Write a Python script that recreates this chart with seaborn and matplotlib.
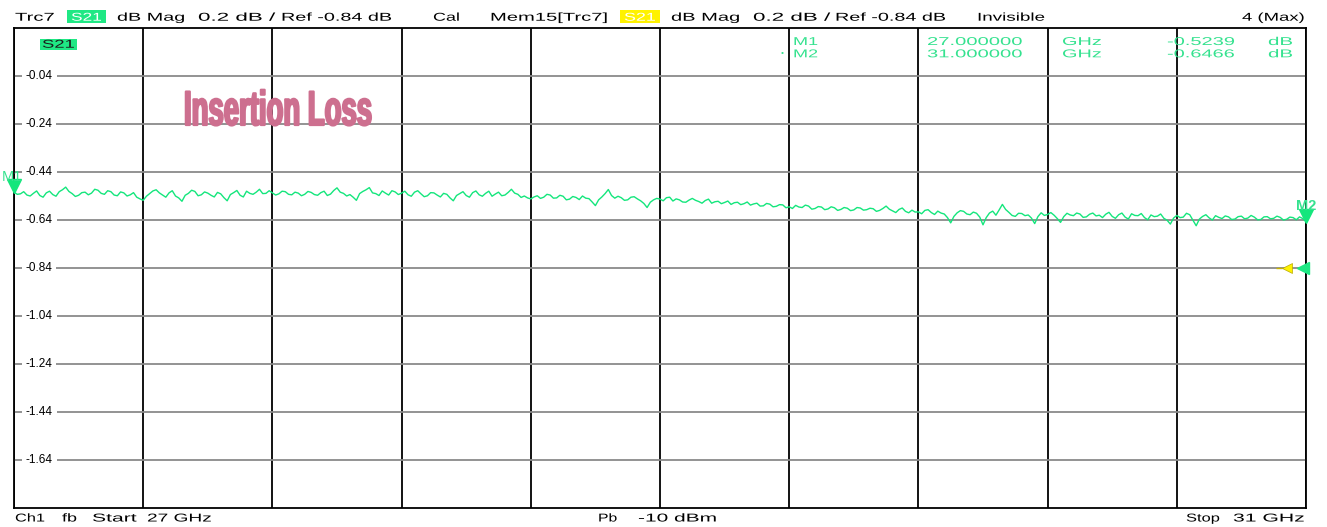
import numpy as np
import pandas as pd
import matplotlib
matplotlib.use("Agg")
import matplotlib.pyplot as plt
import seaborn as sns
from matplotlib.patheffects import AbstractPathEffect
from matplotlib.transforms import Affine2D, offset_copy, blended_transform_factory
from matplotlib.patches import Rectangle
from matplotlib import font_manager

# ---------------- data ----------------
start_ghz = 27.0
stop_ghz = 31.0
ref_level_db = -0.84
db_per_div = 0.2

s21_db = [
    # 27.0 - 27.4 GHz
    -0.524, -0.533, -0.531, -0.522, -0.536, -0.540, -0.529, -0.519, -0.538, -0.545,
    -0.527, -0.520, -0.534, -0.541, -0.522, -0.514, -0.503, -0.521, -0.530, -0.542,
    -0.537, -0.526, -0.524, -0.535, -0.528, -0.512, -0.516, -0.529, -0.533, -0.518,
    -0.522, -0.536, -0.539, -0.523, -0.527, -0.540, -0.535, -0.526, -0.545, -0.552,
    # 27.4 - 27.8 GHz
    -0.558, -0.541, -0.530, -0.519, -0.514, -0.527, -0.536, -0.545, -0.527, -0.518,
    -0.540, -0.548, -0.562, -0.537, -0.529, -0.516, -0.521, -0.539, -0.535, -0.523,
    -0.528, -0.537, -0.544, -0.525, -0.531, -0.547, -0.560, -0.534, -0.526, -0.517,
    -0.537, -0.544, -0.520, -0.529, -0.533, -0.524, -0.512, -0.530, -0.529, -0.518,
    # 27.8 - 28.2 GHz
    -0.527, -0.536, -0.531, -0.520, -0.522, -0.533, -0.535, -0.524, -0.528, -0.539,
    -0.533, -0.521, -0.525, -0.534, -0.537, -0.526, -0.520, -0.538, -0.532, -0.517,
    -0.506, -0.524, -0.529, -0.540, -0.534, -0.545, -0.558, -0.530, -0.521, -0.514,
    -0.505, -0.527, -0.530, -0.538, -0.519, -0.528, -0.536, -0.518, -0.523, -0.534,
    # 28.2 - 28.6 GHz
    -0.528, -0.520, -0.535, -0.541, -0.524, -0.518, -0.531, -0.543, -0.539, -0.526,
    -0.527, -0.536, -0.544, -0.529, -0.533, -0.548, -0.560, -0.538, -0.530, -0.522,
    -0.538, -0.545, -0.526, -0.519, -0.535, -0.541, -0.529, -0.520, -0.541, -0.532,
    -0.524, -0.539, -0.536, -0.525, -0.512, -0.528, -0.533, -0.546, -0.540, -0.548,
    # 28.6 - 29.0 GHz
    -0.552, -0.544, -0.539, -0.550, -0.545, -0.533, -0.536, -0.549, -0.548, -0.537,
    -0.541, -0.556, -0.553, -0.542, -0.546, -0.555, -0.540, -0.549, -0.551, -0.565,
    -0.580, -0.556, -0.544, -0.530, -0.513, -0.538, -0.549, -0.541, -0.547, -0.558,
    -0.556, -0.545, -0.543, -0.552, -0.560, -0.571, -0.588, -0.566, -0.556, -0.550,
    # 29.0 - 29.4 GHz
    -0.553, -0.560, -0.547, -0.545, -0.561, -0.552, -0.556, -0.565, -0.566, -0.557,
    -0.550, -0.558, -0.563, -0.570, -0.559, -0.553, -0.570, -0.564, -0.562, -0.572,
    -0.567, -0.561, -0.575, -0.568, -0.566, -0.576, -0.572, -0.565, -0.578, -0.573,
    -0.570, -0.582, -0.581, -0.571, -0.574, -0.585, -0.583, -0.576, -0.577, -0.589,
    # 29.4 - 29.8 GHz
    -0.585, -0.592, -0.579, -0.586, -0.588, -0.578, -0.582, -0.595, -0.592, -0.584,
    -0.586, -0.597, -0.594, -0.585, -0.589, -0.600, -0.596, -0.588, -0.591, -0.601,
    -0.598, -0.588, -0.590, -0.599, -0.597, -0.591, -0.593, -0.604, -0.600, -0.592,
    -0.582, -0.595, -0.602, -0.609, -0.596, -0.590, -0.604, -0.610, -0.599, -0.607,
    # 29.8 - 30.2 GHz
    -0.606, -0.614, -0.600, -0.597, -0.609, -0.617, -0.603, -0.611, -0.615, -0.630,
    -0.652, -0.625, -0.610, -0.601, -0.604, -0.615, -0.618, -0.607, -0.612, -0.628,
    -0.660, -0.630, -0.611, -0.603, -0.620, -0.598, -0.575, -0.596, -0.608, -0.621,
    -0.625, -0.612, -0.613, -0.622, -0.619, -0.632, -0.655, -0.626, -0.610, -0.621,
    # 30.2 - 30.6 GHz
    -0.617, -0.609, -0.620, -0.634, -0.650, -0.626, -0.612, -0.619, -0.622, -0.611,
    -0.615, -0.629, -0.627, -0.616, -0.611, -0.623, -0.620, -0.630, -0.616, -0.608,
    -0.625, -0.633, -0.618, -0.611, -0.628, -0.636, -0.614, -0.621, -0.622, -0.613,
    -0.630, -0.639, -0.619, -0.626, -0.624, -0.615, -0.633, -0.641, -0.657, -0.632,
    # 30.6 - 31.0 GHz
    -0.621, -0.630, -0.628, -0.612, -0.618, -0.641, -0.664, -0.636, -0.625, -0.618,
    -0.631, -0.640, -0.622, -0.629, -0.634, -0.623, -0.627, -0.638, -0.636, -0.626,
    -0.624, -0.635, -0.632, -0.621, -0.628, -0.639, -0.638, -0.627, -0.626, -0.635,
    -0.633, -0.624, -0.629, -0.640, -0.637, -0.628, -0.630, -0.639, -0.627, -0.634,
    -0.6466,
]
freq_ghz = np.linspace(start_ghz, stop_ghz, len(s21_db))

ytick_values = [-0.04, -0.24, -0.44, -0.64, -0.84, -1.04, -1.24, -1.44, -1.64]
marker_names = ["M1", "M2"]
marker_freqs = ["27.000000", "31.000000"]
marker_values = ["-0.5239", "-0.6466"]

# ---------------- style ----------------
sns.set_theme(style="white")
avail = {f.name for f in font_manager.fontManager.ttflist}
base_font = "Liberation Sans" if "Liberation Sans" in avail else "DejaVu Sans"
narrow_font = "Liberation Sans Narrow" if "Liberation Sans Narrow" in avail else base_font
plt.rcParams["font.family"] = [base_font, "DejaVu Sans"]

TRACE = "#14E67C"
TXT_GREEN = "#35E28F"
BOX_GREEN = "#1FE884"
YELLOW = "#FFF200"
PINK = "#CD6F8F"

W, H = 1327, 527
fig = plt.figure(figsize=(W / 100, H / 100), dpi=100)
fig.patch.set_facecolor("white")
ax = fig.add_axes([14 / W, 1 - 508 / H, 1292 / W, 480 / H])

df = pd.DataFrame({"freq": freq_ghz, "s21": s21_db})
sns.lineplot(data=df, x="freq", y="s21", ax=ax, color=TRACE, linewidth=1.0, zorder=5)

ax.set_xlim(start_ghz, stop_ghz)
ax.set_ylim(ref_level_db - 5 * db_per_div, ref_level_db + 5 * db_per_div)
ax.set_xticks(np.linspace(start_ghz, stop_ghz, 11))
ax.set_yticks(ytick_values)
ax.tick_params(length=0, labelleft=False, labelbottom=False)
ax.set_xlabel("")
ax.set_ylabel("")
ax.xaxis.grid(True, color="black", linewidth=1.3)
ax.yaxis.grid(True, color="#8a8a8a", linewidth=1.3)
ax.set_axisbelow(True)
for sp in ax.spines.values():
    sp.set_color("black")
    sp.set_linewidth(1.3)

# y labels inside the grid
btr = blended_transform_factory(ax.transAxes, ax.transData)
for v in ytick_values:
    ax.text((26 - 14) / 1292, v, f"{v:.2f}", transform=btr, ha="left", va="center",
            fontsize=8.5, color="black", zorder=6,
            bbox=dict(boxstyle="square,pad=0.3", facecolor="white", edgecolor="none"))


# ---------------- stretched text helper ----------------
class HStretch(AbstractPathEffect):
    def __init__(self, sx, stroke=0.0):
        super().__init__()
        self.sx = sx
        self.stroke = stroke

    def draw_path(self, renderer, gc, tpath, affine, rgbFace=None):
        tr = Affine2D().scale(self.sx, 1.0) + affine
        if self.stroke > 0 and rgbFace is not None:
            gc0 = renderer.new_gc()
            gc0.copy_properties(gc)
            gc0.set_linewidth(self.stroke)
            gc0.set_foreground(rgbFace)
            renderer.draw_path(gc0, tpath, tr, rgbFace)
            gc0.restore()
        else:
            renderer.draw_path(gc, tpath, tr, rgbFace)


stretch_list = []


def stext(x0, x1, yb, s, size=8.2, color="black", weight="normal", family=None, z=4, stroke=0.0):
    kw = {}
    if family:
        kw["family"] = family
    t = fig.text(x0 / W, 1 - yb / H, s, ha="left", va="baseline", fontsize=size,
                 color=color, fontweight=weight, zorder=z, **kw)
    stretch_list.append((t, x1 - x0, stroke))
    return t


def box(x0, x1, y0, y1, color):
    fig.patches.append(Rectangle((x0 / W, 1 - y1 / H), (x1 - x0) / W, (y1 - y0) / H,
                                 transform=fig.transFigure, facecolor=color,
                                 edgecolor="none", zorder=2))


# header
stext(15, 55, 20.7, "Trc7")
box(67, 106, 9.5, 22.7, BOX_GREEN)
stext(71, 102, 20.7, "S21", color="white")
stext(117, 185, 20.7, "dB Mag")
stext(198, 275, 20.7, "0.2 dB /")
stext(281, 392, 20.7, "Ref -0.84 dB")
stext(433, 460, 20.7, "Cal")
stext(490, 608, 20.7, "Mem15[Trc7]")
box(620, 660, 10.5, 22.7, YELLOW)
stext(624, 656, 20.7, "S21", color="white")
stext(671, 740, 20.7, "dB Mag")
stext(753, 830, 20.7, "0.2 dB /")
stext(835, 946, 20.7, "Ref -0.84 dB")
stext(977, 1045, 20.7, "Invisible")
stext(1242, 1305, 20.7, "4 (Max)")

# inner trace label
box(40, 77, 39.3, 49.5, BOX_GREEN)
stext(42, 75, 47.7, "S21", color="#1a1a1a")

# marker table
row_base = [45.0, 57.3]
for i in range(2):
    yb = row_base[i]
    stext(793, 818, yb, marker_names[i], color=TXT_GREEN)
    stext(927, 1023, yb, marker_freqs[i], color=TXT_GREEN)
    stext(1062, 1102, yb, "GHz", color=TXT_GREEN)
    stext(1167, 1235, yb, marker_values[i], color=TXT_GREEN)
    stext(1268, 1293, yb, "dB", color=TXT_GREEN)
fig.text(782 / W, 1 - 53.5 / H, "•", ha="center", va="center", fontsize=6, color=TXT_GREEN)

# footer
stext(15, 45, 521.5, "Ch1")
stext(62, 77, 521.5, "fb")
stext(92, 137, 521.5, "Start")
stext(147, 212, 521.5, "27 GHz")
stext(598, 617, 521.5, "Pb")
stext(638, 717, 521.5, "-10 dBm")
stext(1186, 1220, 521.5, "Stop")
stext(1233, 1305, 521.5, "31 GHz")

# title annotation
stext(184, 372, 125, "Insertion Loss", size=35, color=PINK, weight="bold",
      family=narrow_font, z=4, stroke=1.6)

# ---------------- markers ----------------
tri_off = offset_copy(ax.transData, fig=fig, x=0, y=6, units="dots")
ax.plot([freq_ghz[0]], [s21_db[0]], marker="v", ms=10, color=TRACE, transform=tri_off,
        clip_on=False, zorder=7, linestyle="none")
ax.plot([freq_ghz[-1]], [s21_db[-1]], marker="v", ms=10, color=TRACE, transform=tri_off,
        clip_on=False, zorder=7, linestyle="none")
ax.annotate("M1", xy=(freq_ghz[0], s21_db[0]), xytext=(-2, 15), textcoords="offset pixels",
            ha="center", va="center", fontsize=10.5, color=TXT_GREEN, annotation_clip=False, zorder=7)
ax.annotate("M2", xy=(freq_ghz[-1], s21_db[-1]), xytext=(0, 16), textcoords="offset pixels",
            ha="center", va="center", fontsize=10.5, fontweight="bold", color=TXT_GREEN,
            annotation_clip=False, zorder=7)

# reference level markers at right edge
ref_green = offset_copy(ax.transData, fig=fig, x=-3, y=0, units="dots")
ref_yellow = offset_copy(ax.transData, fig=fig, x=-19, y=0, units="dots")
ax.plot([stop_ghz], [ref_level_db], marker="<", ms=9, color=BOX_GREEN, transform=ref_green,
        clip_on=False, zorder=7, linestyle="none")
ax.plot([stop_ghz], [ref_level_db], marker="<", ms=7, color=YELLOW, markeredgecolor="#b8a800",
        markeredgewidth=0.5, transform=ref_yellow, clip_on=False, zorder=7, linestyle="none")
ref_dash = offset_copy(ax.transData, fig=fig, x=-27, y=0, units="dots")
ax.plot([stop_ghz], [ref_level_db], marker="_", ms=5, color="#c9b400", transform=ref_dash,
        clip_on=False, zorder=7, linestyle="none")

# apply horizontal stretch so that each string spans its measured width
fig.canvas.draw()
renderer = fig.canvas.get_renderer()
for t, target, stroke in stretch_list:
    w = t.get_window_extent(renderer).width
    if w > 0:
        t.set_path_effects([HStretch(target / w, stroke)])

fig.savefig("out.png", dpi=100, facecolor="white")
